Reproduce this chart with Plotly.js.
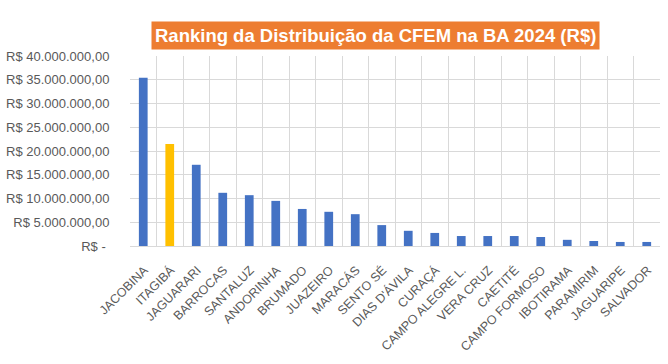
<!DOCTYPE html>
<html>
<head>
<meta charset="utf-8">
<script src="https://cdn.plot.ly/plotly-3.0.1.min.js"></script>
<style>html,body{margin:0;padding:0;background:#fff;}#chart{width:668px;height:364px;}</style>
</head>
<body>
<div id="chart"></div>
<script>
const municipios = ["JACOBINA","ITAGIBÁ","JAGUARARI","BARROCAS","SANTALUZ","ANDORINHA","BRUMADO","JUAZEIRO","MARACÁS","SENTO SÉ","DIAS D'ÁVILA","CURAÇÁ","CAMPO ALEGRE L.","VERA CRUZ","CAETITÉ","CAMPO FORMOSO","IBOTIRAMA","PARAMIRIM","JAGUARIPE","SALVADOR"];
const valores = [35400000,21500000,17100000,11200000,10700000,9500000,7800000,7200000,6700000,4400000,3200000,2750000,2100000,2100000,2100000,1900000,1300000,1050000,850000,850000];
const destaque = "ITAGIBÁ";
const yTickVals = [0,5000000,10000000,15000000,20000000,25000000,30000000,35000000,40000000];
const yTickText = ["R$ -\u00a0","R$ 5.000.000,00","R$ 10.000.000,00","R$ 15.000.000,00","R$ 20.000.000,00","R$ 25.000.000,00","R$ 30.000.000,00","R$ 35.000.000,00","R$ 40.000.000,00"];
const titulo = "Ranking da Distribuição da CFEM na BA 2024 (R$)";

const cores = municipios.map(m => m === destaque ? "#FFC000" : "#4472C4");

const trace = {
  type: "bar",
  x: municipios,
  y: valores,
  marker: {color: cores},
  width: 0.33,
  hoverinfo: "x+y"
};

const layout = {
  width: 668, height: 364,
  margin: {l: 130, r: 8, t: 56, b: 118},
  paper_bgcolor: "#fff", plot_bgcolor: "#fff",
  showlegend: false,
  font: {family: "Liberation Sans, Arial, sans-serif", color: "#595959", size: 12},
  xaxis: {
    type: "category",
    tickson: "boundaries",
    showgrid: true, gridcolor: "#d9d9d9", gridwidth: 1,
    ticks: "", tickangle: -45,
    ticklabelstandoff: 11, ticklabelshift: 1,
    tickfont: {size: 12.5, color: "#595959"},
    showline: true, linecolor: "#d9d9d9",
    zeroline: false,
    automargin: false
  },
  yaxis: {
    range: [0, 40000000],
    tickvals: yTickVals, ticktext: yTickText,
    showgrid: true, gridcolor: "#d9d9d9", gridwidth: 1,
    ticks: "outside", ticklen: 17, tickcolor: "rgba(0,0,0,0)",
    tickfont: {size: 13, color: "#595959"},
    zeroline: false, showline: false,
    automargin: false
  },
  annotations: [{
    text: "<b>" + titulo + "</b>",
    xref: "paper", yref: "paper",
    x: (375 - 130) / 530, y: 1, yshift: 21,
    xanchor: "center", yanchor: "middle",
    showarrow: false,
    bgcolor: "#ED7D31",
    borderpad: 3,
    font: {family: "Liberation Sans, Arial, sans-serif", size: 18.5, color: "#ffffff"}
  }]
};

Plotly.newPlot("chart", [trace], layout, {displayModeBar: false, staticPlot: true});
</script>
</body>
</html>
